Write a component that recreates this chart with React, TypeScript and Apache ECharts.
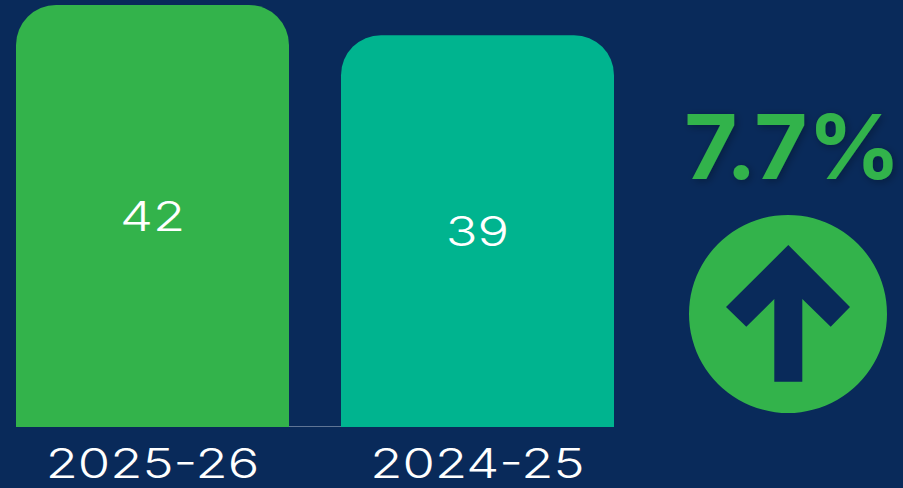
import React, { useEffect, useRef } from "react";
import * as echarts from "echarts";

const categories = ["2025-26", "2024-25"];
const values = [42, 39];
const barColors = ["#33B34B", "#00B48F"];
const changeLabel = "7.7%";

const W = 903;
const H = 488;
const BG = "#092A5A";
const FONT = "Inter";

export default function App() {
  const ref = useRef<HTMLDivElement>(null);
  useEffect(() => {
    if (!ref.current) return;
    const chart = echarts.init(ref.current, undefined, { renderer: "svg", width: W, height: H });
    const textItem = (x: number, y: number, text: string) => ({
      type: "text",
      x,
      y,
      scaleX: 1.28,
      z2: 10,
      style: {
        text,
        fill: "#FFFFFF",
        fontFamily: FONT,
        fontWeight: 300,
        fontSize: 41,
        align: "center",
        verticalAlign: "middle",
      },
    });
    chart.setOption({
      animation: false,
      backgroundColor: BG,
      grid: { left: 152.5, top: 5, width: 325, height: 422, containLabel: false },
      xAxis: {
        type: "category",
        boundaryGap: false,
        data: categories,
        axisLine: { show: false },
        axisTick: { show: false },
        axisLabel: { show: false },
      },
      yAxis: { type: "value", min: 0, max: 42, show: false, splitLine: { show: false } },
      series: [
        {
          type: "bar",
          barWidth: 273,
          clip: false,
          z: 2,
          data: values.map((v, i) => ({ value: v, itemStyle: { color: barColors[i] } })),
          itemStyle: { borderRadius: [40, 40, 0, 0] },
          silent: true,
        },
        {
          type: "custom",
          clip: false,
          silent: true,
          z: 5,
          data: values.map((v, i) => [i, v]),
          encode: { x: 0, y: 1 },
          renderItem: (_p: any, api: any) => {
            const i = api.value(0);
            const v = api.value(1);
            const mid = api.coord([i, v / 2]);
            const base = api.coord([i, 0]);
            return {
              type: "group",
              children: [
                textItem(mid[0], mid[1], String(v)),
                textItem(base[0], base[1] + 36, categories[i]),
              ],
            };
          },
        },
      ],
      graphic: [
        { type: "line", silent: true, shape: { x1: 289, y1: 426.5, x2: 341, y2: 426.5 }, style: { stroke: "#5F7595", lineWidth: 1 } },
        {
          type: "text",
          silent: true,
          x: 792.5,
          y: 146,
          scaleX: 1.03,
          style: {
            text: changeLabel,
            fill: "#33B34B",
            fontFamily: FONT,
            fontWeight: 700,
            fontSize: 89,
            align: "center",
            verticalAlign: "middle",
            textShadowColor: "rgba(0,0,0,0.3)",
            textShadowBlur: 8,
            textShadowOffsetX: 2,
            textShadowOffsetY: 2,
          },
        },
        { type: "circle", silent: true, shape: { cx: 788, cy: 314, r: 99 }, style: { fill: "#33B34B" } },
        {
          type: "polygon",
          silent: true,
          shape: {
            points: [
              [788.3, 245], [850, 307], [830.7, 326.7], [802.3, 299], [802.3, 381.7],
              [774.3, 381.7], [774.3, 299], [746.3, 326.7], [726, 307],
            ],
          },
          style: { fill: BG },
        },
      ],
    });
    return () => chart.dispose();
  }, []);
  return <div ref={ref} style={{ position: "fixed", left: 0, top: 0, width: W, height: H }} />;
}
